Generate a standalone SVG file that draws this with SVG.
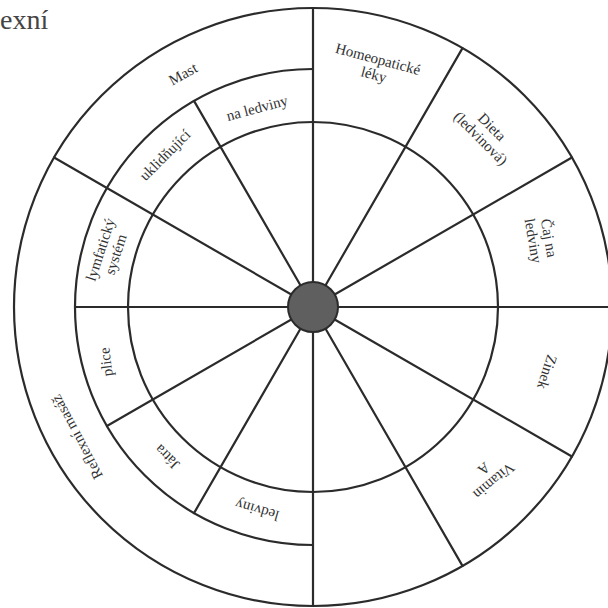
<svg xmlns="http://www.w3.org/2000/svg" width="608" height="608" viewBox="0 0 608 608">
<style>
.ln{fill:none;stroke:#2b2b2b;stroke-width:2.2;stroke-linecap:round}
.t{font-family:"Liberation Serif","Times New Roman",serif;font-size:15px;fill:#333;text-anchor:middle}
.title{font-family:"Liberation Serif","Times New Roman",serif;font-size:28px;fill:#444}
</style>
<rect width="608" height="608" fill="#fff"/>
<text class="title" x="0" y="29">exní</text>
<g id="connectors">
<circle class="ln" cx="313" cy="307" r="299"/>
<circle class="ln" cx="313" cy="307" r="185"/>
<path class="ln" d="M313,545 A238,238 0 0 1 75,307 A238,238 0 0 1 313,69"/>
<line class="ln" x1="313" y1="307" x2="313" y2="8"/>
<line class="ln" x1="313" y1="307" x2="462.5" y2="48.1"/>
<line class="ln" x1="313" y1="307" x2="571.9" y2="157.5"/>
<line class="ln" x1="313" y1="307" x2="612" y2="307"/>
<line class="ln" x1="313" y1="307" x2="571.9" y2="456.5"/>
<line class="ln" x1="313" y1="307" x2="462.5" y2="565.9"/>
<line class="ln" x1="313" y1="307" x2="313" y2="606"/>
<line class="ln" x1="313" y1="307" x2="54.1" y2="157.5"/>
<line class="ln" x1="313" y1="307" x2="194" y2="100.9"/>
<line class="ln" x1="313" y1="307" x2="75" y2="307"/>
<line class="ln" x1="313" y1="307" x2="106.9" y2="426"/>
<line class="ln" x1="313" y1="307" x2="194" y2="513.1"/>
</g>
<g id="hub"><circle cx="313" cy="307" r="25" fill="#5f5f5f" stroke="#2b2b2b" stroke-width="2"/></g>
<g id="mast"><text class="t" transform="translate(183,74) rotate(-29)" y="5">Mast</text></g>
<g id="na-ledviny"><text class="t" transform="translate(257,108) rotate(-15)" y="5">na ledviny</text></g>
<g id="uklidnujici"><text class="t" transform="translate(165,155) rotate(-45)" y="5">uklidňující</text></g>
<g id="lymfaticky"><text class="t" transform="translate(108,252) rotate(-72)"><tspan x="0" y="-3">lymfatický</tspan><tspan x="0" y="13">systém</tspan></text></g>
<g id="plice"><text class="t" transform="translate(106,362) rotate(-97)" y="5">plice</text></g>
<g id="jatra"><text class="t" transform="translate(167,457) rotate(225)" y="5">Játra</text></g>
<g id="ledviny"><text class="t" transform="translate(257,510) rotate(196)" y="5">ledviny</text></g>
<g id="reflexni"><text class="t" transform="translate(77,437) rotate(242)" y="5">Reflexní masáž</text></g>
<g id="homeopaticke"><text class="t" transform="translate(378,59) rotate(15)"><tspan x="0" y="5">Homeopatické</tspan><tspan x="0" y="21">léky</tspan></text></g>
<g id="dieta"><text class="t" transform="translate(492,127) rotate(45)"><tspan x="0" y="5">Dieta</tspan><tspan x="0" y="21">(ledvinová)</tspan></text></g>
<g id="caj"><text class="t" transform="translate(549,238) rotate(80)"><tspan x="0" y="5">Čaj na</tspan><tspan x="0" y="21">ledviny</tspan></text></g>
<g id="zinek"><text class="t" transform="translate(547,372) rotate(108)" y="5">Zinek</text></g>
<g id="vitamin"><text class="t" transform="translate(494,481) rotate(140)"><tspan x="0" y="5">Vitamin</tspan><tspan x="0" y="21">A</tspan></text></g>
</svg>
